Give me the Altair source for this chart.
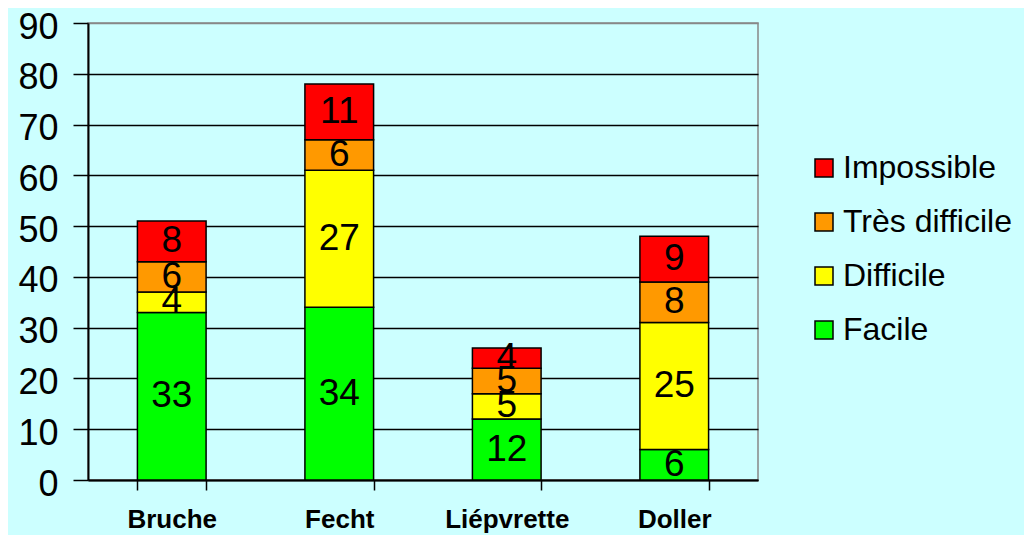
import altair as alt
import pandas as pd

rivers = ["Bruche", "Fecht", "Liépvrette", "Doller"]
levels = ["Facile", "Difficile", "Très difficile", "Impossible"]
facile = [33, 34, 12, 6]
difficile = [4, 27, 5, 25]
tres_difficile = [6, 6, 5, 8]
impossible = [8, 11, 4, 9]
colors = ["#00FF00", "#FFFF00", "#FF9900", "#FF0000"]
y_ticks = [0, 10, 20, 30, 40, 50, 60, 70, 80, 90]

rows = []
for idx, (lvl, vals) in enumerate(zip(levels, [facile, difficile, tres_difficile, impossible])):
    for r, v in zip(rivers, vals):
        rows.append({"river": r, "level": lvl, "value": v, "rank": idx})
df = pd.DataFrame(rows)

FONT = "Liberation Sans"

legend_order = levels[::-1]
color_scale = alt.Scale(domain=legend_order, range=colors[::-1])

base = alt.Chart(df).transform_stack(
    stack="value", groupby=["river"], as_=["y0", "y1"],
    sort=[alt.SortField("rank", order="ascending")]
).transform_calculate(ymid="(datum.y0 + datum.y1) / 2")

x_enc = alt.X(
    "river:N", sort=rivers,
    scale=alt.Scale(paddingInner=0.59, paddingOuter=0.295),
    axis=alt.Axis(
        title=None, labelAngle=0, labelFont=FONT, labelFontSize=26,
        labelFontWeight="bold", labelColor="black", labelPadding=16,
        tickBand="extent", tickSize=10, tickColor="black", tickWidth=1.5,
        domainColor="black", domainWidth=2, grid=False,
    ),
)

bars = base.mark_bar(stroke="black", strokeWidth=1.5).encode(
    x=x_enc,
    y=alt.Y(
        "y0:Q", scale=alt.Scale(domain=[0, 90], nice=False),
        axis=alt.Axis(
            title=None, values=y_ticks, labelFont=FONT, labelFontSize=36,
            labelColor="black", labelPadding=15, labelOffset=4, tickSize=15,
            tickColor="black", tickWidth=1.5, domainColor="black",
            domainWidth=2,
            gridColor=alt.condition("datum.value == 90", alt.value("#888888"), alt.value("black")),
            gridWidth=1.5,
        ),
    ),
    y2="y1:Q",
    color=alt.Color(
        "level:N", scale=color_scale,
        legend=alt.Legend(
            title=None, orient="none", legendX=720, legendY=129,
            symbolType="square", symbolSize=324, symbolStrokeColor="black",
            symbolStrokeWidth=1.5, labelFont=FONT, labelFontSize=32,
            labelColor="black", rowPadding=22, labelOffset=3, padding=0,
            labelLimit=0,
        ),
    ),
)

labels = base.mark_text(font=FONT, fontSize=37, color="black", baseline="middle").encode(
    x=alt.X("river:N", sort=rivers),
    y=alt.Y("ymid:Q"),
    text="value:Q",
)

chart = alt.layer(bars, labels).properties(
    width=670, height=457,
    autosize=alt.AutoSizeParams(type="none"),
    padding={"left": 80, "top": 15, "right": 266, "bottom": 55},
).configure(background="#CCFFFF").configure_view(stroke="#888888", strokeWidth=1.5)

chart.save("out.html", embed_options={"renderer": "svg", "actions": False})
